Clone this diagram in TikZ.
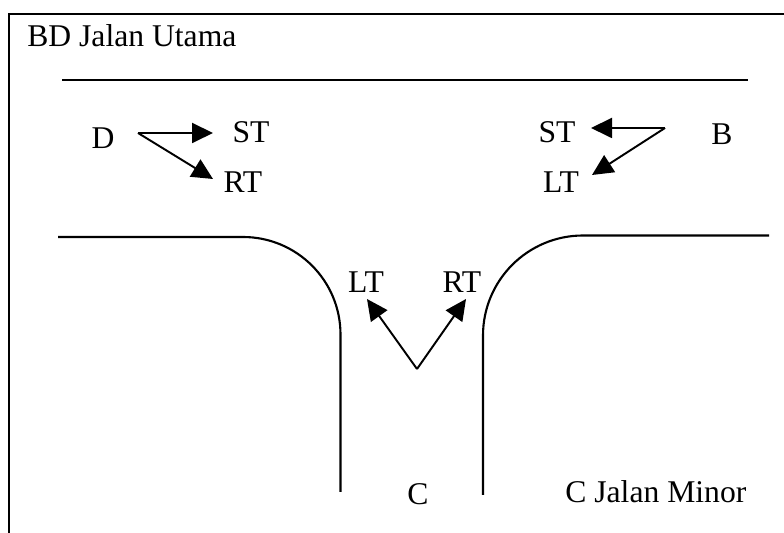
\documentclass[tikz,border=0pt]{standalone}
\usepackage{fontspec}
\setmainfont{Liberation Serif}
\usetikzlibrary{arrows.meta}
\tikzset{
  road/.style={line width=1.2pt},
  turn/.style={line width=1.1pt,-{Triangle[length=0.42cm,width=0.4cm]}},
  lbl/.style={anchor=base,inner sep=0pt,font=\fontsize{18}{21}\selectfont}
}
\begin{document}
\begin{tikzpicture}
    \useasboundingbox (0,0) rectangle (15.68,10.66);
    % frame
    \draw [road] (0.18,0)--(0.18,10.38)--(15.68,10.38);
    \node [lbl,anchor=base west] (utama) at (0.54,9.72) {BD Jalan Utama};
    % road edges
    \draw [road] (1.24,9.06)--(14.96,9.06);
    \draw [road] (1.16,5.92)--(4.86,5.92) arc[start angle=90,end angle=0,radius=1.95]--(6.81,0.82);
    \draw [road] (9.66,0.76)--(9.66,3.95) arc[start angle=180,end angle=90,radius=2]--(15.38,5.95);
    % approach D
    \node [lbl] (d) at (2.06,7.68) {D};
    \node [lbl] (dst) at (5.02,7.8) {ST};
    \node [lbl] (drt) at (4.86,6.8) {RT};
    \coordinate (dsplit) at (2.76,8.0);
    \coordinate (dsttip) at (4.26,8.0);
    \coordinate (drttip) at (4.26,7.08);
    \draw [turn] (dsplit)--(dsttip);
    \draw [turn] (dsplit)--(drttip);
    % approach B
    \node [lbl] (b) at (14.44,7.76) {B};
    \node [lbl] (bst) at (11.14,7.8) {ST};
    \node [lbl] (blt) at (11.22,6.8) {LT};
    \coordinate (bsplit) at (13.3,8.1);
    \coordinate (bsttip) at (11.82,8.1);
    \coordinate (blttip) at (11.84,7.16);
    \draw [turn] (bsplit)--(bsttip);
    \draw [turn] (bsplit)--(blttip);
    % approach C
    \node [lbl] (clt) at (7.32,4.8) {LT};
    \node [lbl] (crt) at (9.24,4.8) {RT};
    \coordinate (csplit) at (8.34,3.28);
    \coordinate (clttip) at (7.34,4.68);
    \coordinate (crttip) at (9.32,4.68);
    \draw [turn] (csplit)--(clttip);
    \draw [turn] (csplit)--(crttip);
    \node [lbl] (c) at (8.36,0.56) {C};
    \node [lbl,anchor=base west] (minor) at (11.3,0.6) {C Jalan Minor};
\end{tikzpicture}
\end{document}
